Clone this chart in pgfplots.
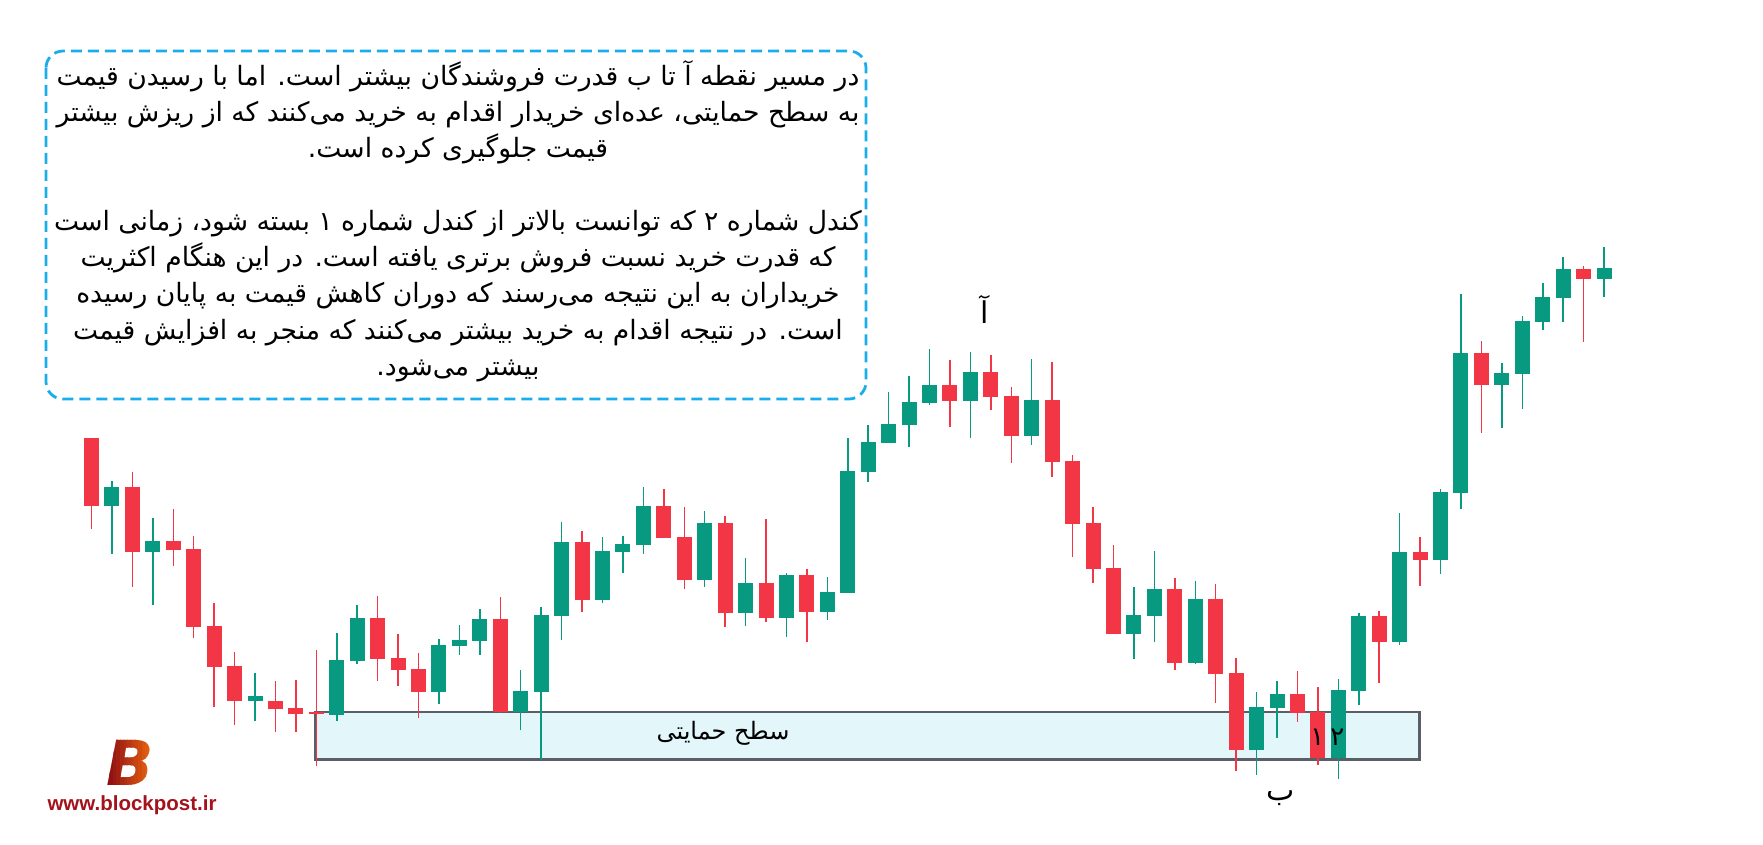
\documentclass[border=0pt]{standalone}
\usepackage{fontspec}
\usepackage{pgfplots}
\pgfplotsset{compat=1.18}
\usepackage{pgfplotstable}
\usetikzlibrary{calc}
\setmainfont{DejaVu Sans}
\newfontfamily\arabicfont[Script=Arabic]{DejaVu Sans}
\newfontfamily\logofont{Liberation Sans}
\newfontfamily\logoB{DejaVu Sans}
\TeXXeTstate=1

\definecolor{cgreen}{HTML}{089981}
\definecolor{cred}{HTML}{F23645}
\definecolor{boxfill}{HTML}{E3F7FB}
\definecolor{boxdraw}{HTML}{5A5E68}
\definecolor{dashblue}{HTML}{1AADEE}
\definecolor{logored}{HTML}{A3131B}
\definecolor{logoL}{HTML}{8A0A12}
\definecolor{logoR}{HTML}{EE6A10}

% candle data: i open high low close (price axis in screen rows, reversed)
\pgfplotstableread{
i o h l c
2 505.7 481 553.7 487
4 551.7 518 604.7 541
9 700.7 673 720.7 696
13 714.7 633 720.7 660
14 660.7 605 663.7 618
18 691.7 639 703.7 645
19 645.7 625 654.7 640
20 640.7 609 654.7 619
22 711.7 670 729.7 691
23 691.7 607 760 615
24 615.7 522 640 542
26 599.7 537 602.7 551
27 551.7 536 572.7 544
28 544.7 487 553.7 506
31 579.7 511 586.7 523
33 612.7 558 625.7 583
35 617.7 573 636.7 575
37 611.7 577 619.7 592
38 592.7 438 592.7 471
39 471.7 425 481.7 442
40 442.7 392 442.7 424
41 424.7 376 446.7 402
42 402.7 349 404.7 385
44 400.7 352 437.7 372
47 435.7 359 444.7 400
52 633.7 587 658.7 615
53 615.7 551 641.7 589
55 662.7 581 663.7 599
58 749.7 692 774.7 707
59 708 681 737.7 694
62 757.7 679 778.7 690
63 690.7 613 704.7 616
65 641.7 513 644.7 552
67 559.7 489 573.7 492
68 492.7 294 508.7 353
70 384.7 363 427.7 373
71 373.7 316 408.7 321
72 321.7 283 329.7 297
73 297.7 257 321.7 269
75 278.7 247 296.7 268
}\greentab

\pgfplotstableread{
i o h l c
1 438 438 528.7 505.7
3 487 472 586.7 551.7
5 541 509 565.7 549.7
6 549 536 637.7 626.7
7 626 603 706.7 666.7
8 666 652 724.7 700.7
10 701 681 731.7 708.7
11 708 680 731.7 713.7
12 712.3 650 765.7 714
15 618 596 680.7 658.7
16 658 634 685.7 669.7
17 669 653 717.7 691.7
21 619 597 712.7 711.7
25 542 531 611.7 599.7
29 506 489 537.7 537.7
30 537 507 588.7 579.7
32 523 516 626.7 612.7
34 583 519 621.7 617.7
36 575 569 641.7 611.7
43 385 360 426.7 400.7
45 372 355 409.7 396.7
46 396 387 462.7 435.7
48 400 362 476.7 461.7
49 461 455 556.7 523.7
50 523 507 582.7 568.7
51 568 545 633.7 633.7
54 589 578 669.7 662.7
56 599 584 702.7 673.7
57 673 658 770.7 749.7
60 694 671 721.7 712.7
61 712 687 764.7 757.7
64 616 611 682.7 641.7
66 552 537 585.7 559.7
69 353 341 432.7 384.7
74 269 266 341.7 278.7
}\redtab

\newcommand\bodyfont{\arabicfont\fontsize{13.3}{18.15}\selectfont}
\newcommand\labelfont{\arabicfont\fontsize{15}{18}\selectfont}
\newcommand\Bfont{\logoB\bfseries\itshape\fontsize{31}{31}\selectfont}

\pgfplotsset{
  wick/.style={no markers, draw=none, forget plot,
    error bars/.cd, y dir=both, y explicit, error mark=none,
    error bar style={line width=0.75pt, draw=#1, solid}},
  body/.style={no markers, draw=none, forget plot,
    error bars/.cd, y dir=both, y explicit, error mark=none,
    error bar style={line width=7.5pt, draw=#1, solid, line cap=butt}},
}

\begin{document}
\begin{tikzpicture}
\begin{axis}[width=881.5pt, height=422.5pt, scale only axis,
  xmin=0, xmax=1763, ymin=0, ymax=845, y dir=reverse,
  hide axis, clip=false]
\path (axis cs:0,0) rectangle (axis cs:1763,845);

% support zone
\draw[boxdraw, fill=boxfill, line width=1.3pt] (axis cs:315.3,712) rectangle (axis cs:1419.3,759.5);
\node[font=\arabicfont\fontsize{12}{14}\selectfont, text=black] at (axis cs:723,733) {\beginR سطح حمایتی\endR};

% candles
\addplot[wick=cgreen] table[x expr={91.5+(\thisrow{i}-1)*20.44}, y expr={(\thisrow{h}+\thisrow{l})/2}, y error expr={(\thisrow{l}-\thisrow{h})/2}] {\greentab};
\addplot[wick=cred] table[x expr={91.5+(\thisrow{i}-1)*20.44}, y expr={(\thisrow{h}+\thisrow{l})/2}, y error expr={(\thisrow{l}-\thisrow{h})/2}] {\redtab};
\addplot[body=cgreen] table[x expr={91.5+(\thisrow{i}-1)*20.44}, y expr={(\thisrow{o}+\thisrow{c})/2}, y error expr={max(abs(\thisrow{c}-\thisrow{o})/2,0.8)}] {\greentab};
\addplot[body=cred] table[x expr={91.5+(\thisrow{i}-1)*20.44}, y expr={(\thisrow{o}+\thisrow{c})/2}, y error expr={max(abs(\thisrow{c}-\thisrow{o})/2,0.8)}] {\redtab};

% labels
\node[font=\labelfont] at (axis cs:985,309) {\beginR آ\endR};
\node[font=\labelfont] at (axis cs:1281,798) {\beginR ب\endR};
\node[font=\arabicfont\fontsize{13}{14}\selectfont] at (axis cs:1317.3,737) {۱};
\node[font=\arabicfont\fontsize{13}{14}\selectfont] at (axis cs:1337.3,737) {۲};

% text box
\draw[dashblue, line width=1.4pt, dash pattern=on 5.5pt off 3pt, rounded corners=8.5pt] (axis cs:46,51) rectangle (axis cs:866,399);
\node[align=center, font=\bodyfont, text=black] at (axis cs:458,221) {%
\beginR در مسیر نقطه آ تا ب قدرت فروشندگان بیشتر است. اما با رسیدن قیمت\endR\\
\beginR به سطح حمایتی، عده‌ای خریدار  اقدام به خرید می‌کنند که از ریزش بیشتر\endR\\
\beginR قیمت جلوگیری کرده است.\endR\\
\mbox{}\\
\beginR کندل شماره ۲ که توانست بالاتر از کندل شماره ۱ بسته شود، زمانی است\endR\\
\beginR که قدرت خرید نسبت فروش برتری یافته است. در این هنگام اکثریت\endR\\
\beginR خریداران به این نتیجه می‌رسند که دوران کاهش قیمت به پایان رسیده\endR\\
\beginR است. در نتیجه اقدام به خرید بیشتر می‌کنند که منجر به افزایش قیمت\endR\\
\beginR بیشتر می‌شود.\endR};

% logo anchor points
\coordinate (Bc) at (axis cs:130,763);
\node[inner sep=0pt, font=\logofont\bfseries\fontsize{10.25}{12}\selectfont, text=logored, anchor=base] at (axis cs:132,810) {www.blockpost.ir};
\end{axis}
% gradient B built from clipped vertical strips
\foreach \k in {0,...,13}{
  \pgfmathsetmacro\p{\k*100/13}
  \begin{scope}
    \clip ($(Bc)+(-12pt+\k*1.8pt,-12pt)$) rectangle ++(1.9pt,24pt);
    \node[inner sep=0pt, font=\Bfont, text=logoR!\p!logoL] at (Bc) {B};
  \end{scope}
}
\end{tikzpicture}
\end{document}
